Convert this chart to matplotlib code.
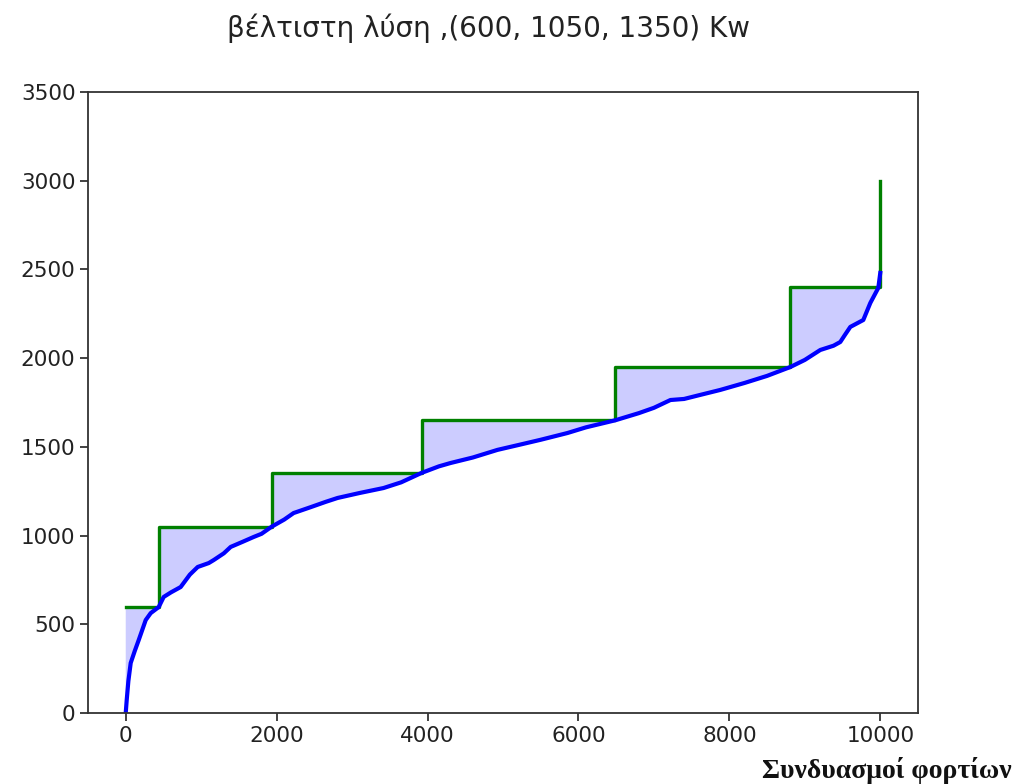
import numpy as np
import matplotlib
matplotlib.use("Agg")
import matplotlib.pyplot as plt

plt.rcParams['font.family'] = ['DejaVu Sans']

# sorted load combinations (blue curve)
load_x = [0, 13, 35, 66, 120, 172, 265, 331, 437, 503, 600, 728, 850, 954, 1100,
          1166, 1300, 1391, 1550, 1695, 1800, 1934, 2100, 2225, 2450, 2650, 2808,
          3100, 3417, 3650, 3920, 4150, 4305, 4600, 4927, 5200, 5500, 5854, 6100,
          6490, 6800, 7000, 7219, 7400, 7616, 7881, 8200, 8500, 8808, 9000, 9205,
          9380, 9470, 9530, 9603, 9775, 9868, 9974, 10000]
load_y = [0, 73, 180, 282, 350, 411, 524, 563, 597, 654, 680, 710, 780, 823, 845,
          862, 900, 936, 965, 992, 1010, 1050, 1090, 1127, 1160, 1190, 1212,
          1240, 1268, 1300, 1353, 1390, 1409, 1440, 1483, 1510, 1540, 1578, 1610,
          1650, 1690, 1720, 1764, 1770, 1793, 1821, 1860, 1900, 1950, 1990, 2046,
          2070, 2091, 2130, 2176, 2215, 2311, 2396, 2480]

# optimal capacity steps (green)
step_x = [0, 437, 1934, 3920, 6490, 8808, 10000]
step_y = [600, 1050, 1350, 1650, 1950, 2400, 3000]

title = "βέλτιστη λύση ,(600, 1050, 1350) Kw"
xlabel = "Συνδυασμοί φορτίων"
xticks = [0, 2000, 4000, 6000, 8000, 10000]
yticks = [0, 500, 1000, 1500, 2000, 2500, 3000, 3500]

fig = plt.figure(figsize=(10.19, 7.84), dpi=100)
ax = fig.add_axes([88/1019, 1-713/784, (918-88)/1019, (713-92)/784])

# fill polygon between step (upper) and curve (lower)
px, py = [], []
for i in range(len(step_x) - 1):
    px += [step_x[i], step_x[i+1]]
    py += [step_y[i], step_y[i]]
px += load_x[::-1]
py += load_y[::-1]
ax.fill(px, py, color="blue", alpha=0.2, linewidth=0)

ax.step(step_x, step_y, where="post", color="green", linewidth=2.4)
ax.plot(load_x, load_y, color="blue", linewidth=3.0)

ax.set_xlim(-500, 10500)
ax.set_ylim(0, 3500)
ax.set_xticks(xticks)
ax.set_yticks(yticks)
ax.tick_params(labelsize=15.5, length=5.5, width=1.3, colors="#333333", labelcolor="#222222")
for s in ax.spines.values():
    s.set_linewidth(1.3)
    s.set_color("#333333")

fig.text(0.479, 1-28/784, title, ha="center", va="center", fontsize=20, color="#222222")
fig.text(1012/1019, 1-770/784, xlabel, ha="right", va="center", fontsize=20,
         family="Liberation Serif", fontweight="bold", color="#111111")

fig.savefig("out.png", dpi=100)
